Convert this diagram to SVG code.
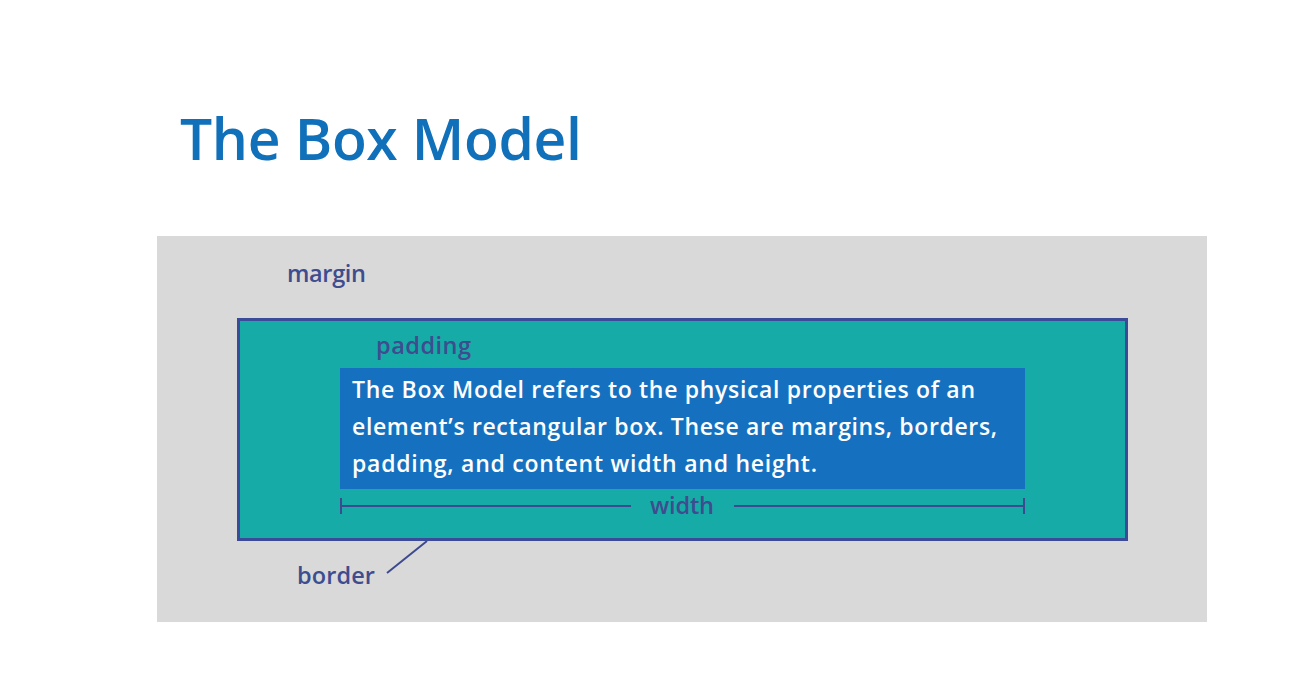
<svg xmlns="http://www.w3.org/2000/svg" width="1315" height="687" viewBox="0 0 1315 687">
  <style>
    .title { font-family: "Open Sans", Lato, sans-serif; font-weight: 600; font-size: 57px; fill: #1070b9; }
    .label { font-family: "Open Sans", Lato, sans-serif; font-weight: 600; font-size: 23.5px; fill: #3f4c8e; }
    .body { font-family: "Open Sans", Lato, sans-serif; font-weight: 600; font-size: 23px; fill: #ffffff; }
    .dim { stroke: #3d4a8f; stroke-width: 2; fill: none; }
  </style>
  <rect width="1315" height="687" fill="#ffffff"/>
  <text class="title" x="180" y="160" textLength="402" lengthAdjust="spacing">The Box Model</text>

  <g id="margin">
    <rect x="157" y="236" width="1050" height="386" fill="#d9d9d9"/>
    <text class="label" x="287" y="282" textLength="79" lengthAdjust="spacing">margin</text>
  </g>

  <g id="border">
    <rect x="238.5" y="319.5" width="888" height="220" fill="#17aba7" stroke="#3c4a9a" stroke-width="3"/>
    <text class="label" x="297" y="584" textLength="78" lengthAdjust="spacing">border</text>
  </g>

  <g id="padding">
    <text class="label" x="376" y="354" textLength="95" lengthAdjust="spacing">padding</text>
  </g>

  <g id="content">
    <rect x="340" y="368" width="685" height="121" fill="#1571bf"/>
    <text class="body" x="352" y="398" textLength="623" lengthAdjust="spacing">The Box Model refers to the physical properties of an</text>
    <text class="body" x="352" y="435" textLength="645" lengthAdjust="spacing">element’s rectangular box. These are margins, borders,</text>
    <text class="body" x="352" y="472" textLength="465" lengthAdjust="spacing">padding, and content width and height.</text>
  </g>

  <g id="width-dimension">
    <text class="label" x="650" y="514" textLength="64" lengthAdjust="spacing">width</text>
  </g>

  <g id="connectors">
    <path class="dim" d="M341 498 V514 M341 506 H631 M734 506 H1024 M1024 498 V514"/>
    <path class="dim" d="M427 541 L387 573"/>
  </g>
</svg>
